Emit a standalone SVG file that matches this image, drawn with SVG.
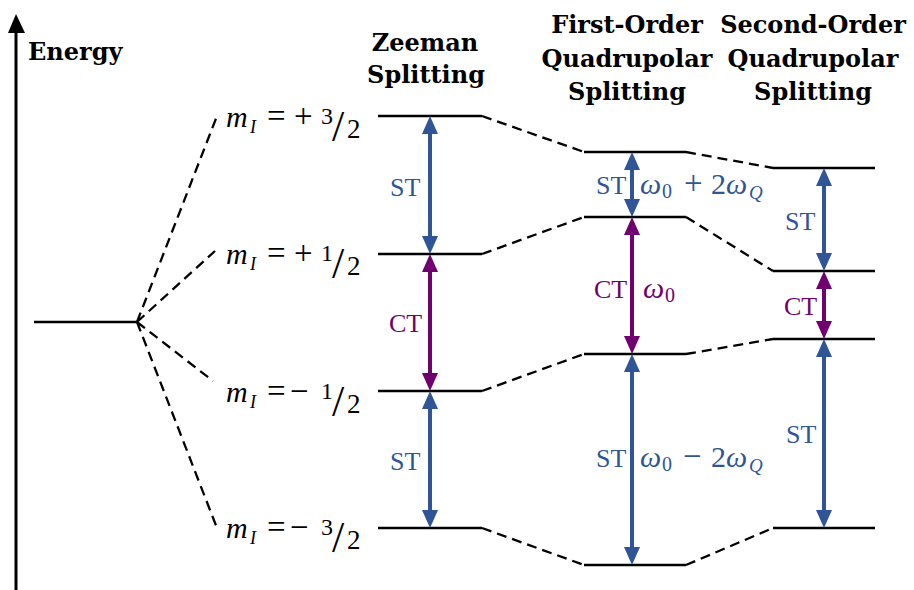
<svg xmlns="http://www.w3.org/2000/svg" width="914" height="590" viewBox="0 0 914 590">
<style>
.head{font-family:"DejaVu Serif","Liberation Serif",serif;font-weight:bold;font-size:24px;fill:#000;text-anchor:middle}
.lbl{font-family:"Liberation Serif","DejaVu Serif",serif;font-size:26px}
.math{font-family:"Liberation Serif","DejaVu Serif",serif;font-size:30px}
.op{font-size:33px}
.num{font-size:24px}
.it{font-style:italic}
.blue{fill:#2F5597}
.purple{fill:#700070}
.lvl{stroke:#000;stroke-width:2.6;fill:none}
.dash{stroke:#000;stroke-width:2.3;stroke-dasharray:10 6;fill:none}
.st{stroke:#2F5597;stroke-width:4;marker-start:url(#hb);marker-end:url(#hb)}
.ct{stroke:#700070;stroke-width:4;marker-start:url(#hp);marker-end:url(#hp)}
</style>
<defs>
<marker id="hb" markerUnits="userSpaceOnUse" markerWidth="18" markerHeight="16" viewBox="0 0 18 16" refX="9" refY="8" orient="auto-start-reverse"><path d="M0,0 L18,8 L0,16 z" fill="#2F5597"/></marker>
<marker id="hp" markerUnits="userSpaceOnUse" markerWidth="18" markerHeight="16" viewBox="0 0 18 16" refX="9" refY="8" orient="auto-start-reverse"><path d="M0,0 L18,8 L0,16 z" fill="#700070"/></marker>
</defs>
<rect width="914" height="590" fill="#fff"/>

<g id="axis">
<line x1="16" y1="590" x2="16" y2="30" stroke="#000" stroke-width="3"/>
<polygon points="8,33 16,14 25,33" fill="#000"/>
<text x="28" y="60" class="head" style="text-anchor:start">Energy</text>
</g>

<g id="headings">
<text class="head" x="425" y="51">Zeeman</text>
<text class="head" x="426" y="83">Splitting</text>
<text class="head" x="627" y="33">First-Order</text>
<text class="head" x="627" y="67">Quadrupolar</text>
<text class="head" x="627" y="100">Splitting</text>
<text class="head" x="813" y="33">Second-Order</text>
<text class="head" x="813" y="67">Quadrupolar</text>
<text class="head" x="813" y="100">Splitting</text>
</g>

<g id="connectors">
<path class="dash" d="M137,322 L217,116 M137,322 L215,251 M137,322 L213,381 M137,322 L217,528"/>
<path class="dash" d="M482,116 L584,152 M482,254 L584,217 M482,391 L584,354 M482,528 L584,565"/>
<path class="dash" d="M686,152 L773,168 M686,217 L773,271 M686,354 L773,339 M686,565 L773,528"/>
</g>

<g id="ground"><line class="lvl" x1="34" y1="322" x2="137" y2="322"/></g>

<g id="zeeman-levels">
<line class="lvl" x1="378" y1="116" x2="482" y2="116"/>
<line class="lvl" x1="378" y1="254" x2="482" y2="254"/>
<line class="lvl" x1="378" y1="391" x2="482" y2="391"/>
<line class="lvl" x1="378" y1="528" x2="482" y2="528"/>
</g>
<g id="first-levels">
<line class="lvl" x1="584" y1="152" x2="686" y2="152"/>
<line class="lvl" x1="584" y1="217" x2="686" y2="217"/>
<line class="lvl" x1="584" y1="354" x2="686" y2="354"/>
<line class="lvl" x1="584" y1="565" x2="686" y2="565"/>
</g>
<g id="second-levels">
<line class="lvl" x1="773" y1="168" x2="875" y2="168"/>
<line class="lvl" x1="773" y1="271" x2="875" y2="271"/>
<line class="lvl" x1="773" y1="339" x2="875" y2="339"/>
<line class="lvl" x1="773" y1="528" x2="875" y2="528"/>
</g>

<g id="level-labels" class="math">
<text y="127"><tspan x="226" class="it">m</tspan><tspan x="250" y="133" class="it" font-size="18">I</tspan><tspan x="267" y="127" class="op">=</tspan><tspan x="294" class="op">+</tspan><tspan x="321" y="124" class="num">3</tspan><tspan x="332" y="141" font-size="44">/</tspan><tspan x="347" y="138" font-size="27">2</tspan></text>
<text y="264"><tspan x="226" class="it">m</tspan><tspan x="250" y="270" class="it" font-size="18">I</tspan><tspan x="267" y="264" class="op">=</tspan><tspan x="294" class="op">+</tspan><tspan x="321" y="261" class="num">1</tspan><tspan x="332" y="278" font-size="44">/</tspan><tspan x="347" y="275" font-size="27">2</tspan></text>
<text y="402"><tspan x="226" class="it">m</tspan><tspan x="250" y="408" class="it" font-size="18">I</tspan><tspan x="267" y="402" class="op">=</tspan><tspan x="290" class="op">−</tspan><tspan x="321" y="399" class="num">1</tspan><tspan x="332" y="416" font-size="44">/</tspan><tspan x="347" y="413" font-size="27">2</tspan></text>
<text y="538"><tspan x="226" class="it">m</tspan><tspan x="250" y="544" class="it" font-size="18">I</tspan><tspan x="267" y="538" class="op">=</tspan><tspan x="290" class="op">−</tspan><tspan x="321" y="535" class="num">3</tspan><tspan x="332" y="552" font-size="44">/</tspan><tspan x="347" y="549" font-size="27">2</tspan></text>
</g>

<g id="zeeman-transitions">
<line class="st" x1="430" y1="125" x2="430" y2="245"/>
<line class="ct" x1="430" y1="263" x2="430" y2="382"/>
<line class="st" x1="430" y1="400" x2="430" y2="519"/>
<text class="lbl blue" x="390" y="196">ST</text>
<text class="lbl purple" x="389" y="332">CT</text>
<text class="lbl blue" x="390" y="470">ST</text>
</g>

<g id="first-transitions">
<line class="st" x1="632" y1="161" x2="632" y2="208"/>
<line class="ct" x1="632" y1="226" x2="632" y2="345"/>
<line class="st" x1="632" y1="363" x2="632" y2="556"/>
<text class="lbl blue" x="596" y="194">ST</text>
<text class="math blue" y="194"><tspan x="640" class="it">ω</tspan><tspan x="662" y="198" font-size="20">0</tspan><tspan x="684" y="194" class="op">+</tspan><tspan x="711">2</tspan><tspan x="726" class="it">ω</tspan><tspan x="749" y="199" class="it" font-size="19">Q</tspan></text>
<text class="lbl purple" x="594" y="298">CT</text>
<text class="math purple" y="298"><tspan x="643" class="it">ω</tspan><tspan x="665" y="302" font-size="20">0</tspan></text>
<text class="lbl blue" x="596" y="467">ST</text>
<text class="math blue" y="467"><tspan x="640" class="it">ω</tspan><tspan x="662" y="471" font-size="20">0</tspan><tspan x="683" y="467" class="op">−</tspan><tspan x="711">2</tspan><tspan x="726" class="it">ω</tspan><tspan x="749" y="472" class="it" font-size="19">Q</tspan></text>
</g>

<g id="second-transitions">
<line class="st" x1="824" y1="177" x2="824" y2="262"/>
<line class="ct" x1="824" y1="280" x2="824" y2="330"/>
<line class="st" x1="824" y1="348" x2="824" y2="519"/>
<text class="lbl blue" x="785" y="230">ST</text>
<text class="lbl purple" x="784" y="315">CT</text>
<text class="lbl blue" x="786" y="443">ST</text>
</g>
</svg>
